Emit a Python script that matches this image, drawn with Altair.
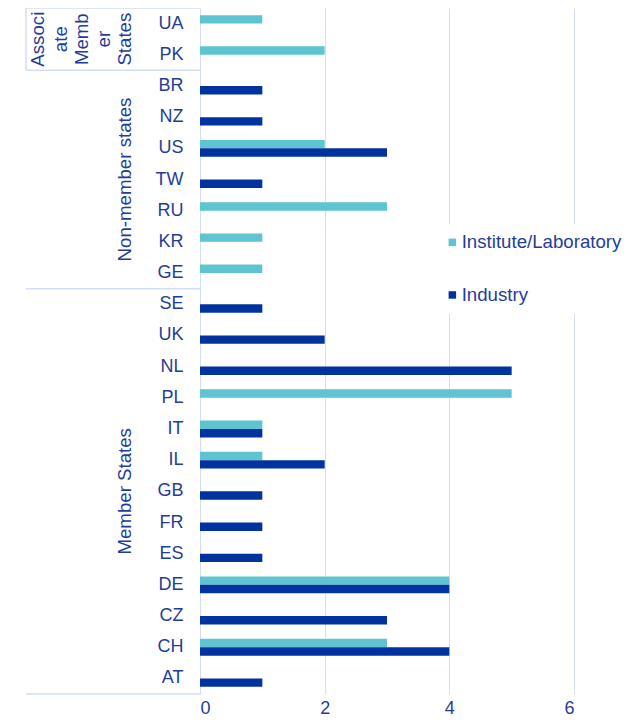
import altair as alt
import pandas as pd

countries = ["UA", "PK", "BR", "NZ", "US", "TW", "RU", "KR", "GE",
             "SE", "UK", "NL", "PL", "IT", "IL", "GB", "FR", "ES", "DE", "CZ", "CH", "AT"]
institute = [1, 2, 0, 0, 2, 0, 3, 1, 1, 0, 0, 0, 5, 1, 1, 0, 0, 0, 4, 0, 3, 0]
industry = [0, 0, 1, 1, 3, 1, 0, 0, 0, 1, 2, 5, 0, 1, 2, 1, 1, 1, 4, 3, 4, 1]
series = ["Institute/Laboratory", "Industry"]
colors = ["#5fc4d2", "#0033a0"]
x_ticks = [0, 2, 4, 6]

# group separators (first country of each group: top edge of its band)
sep_tops = ["UA", "BR", "SE"]
sep_bottom = ["AT"]
assoc_end = ["BR"]

# group labels: (text, anchor country, x pixel offset from axis)
member_label = [("Member States", "GB", -75)]
nonmember_label = [("Non-member states", "TW", -75)]
assoc_pieces = [("Associ", "UA", -162), ("ate", "UA", -139), ("Memb", "UA", -118),
                ("er", "UA", -96), ("States", "UA", -75)]

TXT = "#1f3d99"
LINE = "#d3ddf4"
FONT = "Liberation Sans"

rows = []
for c, a, b in zip(countries, institute, industry):
    if a:
        rows.append({"country": c, "type": series[0], "value": a})
    if b:
        rows.append({"country": c, "type": series[1], "value": b})
df = pd.DataFrame(rows)

yscale = alt.Scale(domain=countries, paddingInner=0, paddingOuter=0)
yaxis = alt.Axis(title=None, ticks=False, labelPadding=17, labelFontSize=18,
                 labelColor=TXT, labelFont=FONT, domainColor=LINE, grid=False)

bars = alt.Chart(df).mark_bar().encode(
    y=alt.Y("country:N", sort=countries, scale=yscale, axis=yaxis),
    yOffset=alt.YOffset("type:N", sort=series,
                        scale=alt.Scale(domain=series, paddingInner=0, paddingOuter=0.85)),
    x=alt.X("value:Q", scale=alt.Scale(domain=[0, 6]),
            axis=alt.Axis(title=None, values=x_ticks, ticks=False, domain=False,
                          labelFontSize=18, labelColor=TXT, labelFont=FONT,
                          labelPadding=5, gridColor=LINE)),
    color=alt.Color("type:N", sort=series,
                    scale=alt.Scale(domain=series, range=colors),
                    legend=alt.Legend(title=None, orient="none", legendX=234, legendY=216,
                                      symbolType="square", symbolSize=56,
                                      symbolStrokeWidth=0, labelFontSize=18.67,
                                      labelColor=TXT, labelFont=FONT, rowPadding=32.6,
                                      labelOffset=0, fillColor="white", padding=9)),
)

def yband(pos):
    return alt.Y("country:N", sort=countries, scale=yscale, bandPosition=pos, axis=yaxis)

top_rules = alt.Chart(pd.DataFrame({"country": sep_tops})).mark_rule(
    color=LINE, strokeWidth=1.5).encode(
    y=yband(0), x=alt.value(-174), x2=alt.value(0))
bottom_rules = alt.Chart(pd.DataFrame({"country": sep_bottom})).mark_rule(
    color=LINE, strokeWidth=1.5).encode(
    y=yband(1), x=alt.value(-174), x2=alt.value(0))
vrule = alt.Chart(pd.DataFrame({"country": assoc_end})).mark_rule(
    color=LINE, strokeWidth=1.5).encode(
    y=yband(0), y2=alt.value(0), x=alt.value(-174))

def label_layer(items, pos):
    d = pd.DataFrame(items, columns=["text", "country", "xo"])
    return alt.Chart(d).mark_text(angle=270, align="center", baseline="middle",
                                  fontSize=18.67, font=FONT, color=TXT).encode(
        y=yband(pos),
        x=alt.X("xo:Q", scale=None),
        text="text:N")

chart = alt.layer(
    bars, top_rules, bottom_rules, vrule,
    label_layer(member_label, 0.5),
    label_layer(nonmember_label, 0.5),
    label_layer(assoc_pieces, 1),
).properties(
    width=374, height=686,
    autosize=alt.AutoSizeParams(type="none"),
    padding={"left": 192, "top": 0, "right": 56, "bottom": 23},
).configure_view(stroke=None)

chart.save("out.html", embed_options={"renderer": "svg", "actions": False})
